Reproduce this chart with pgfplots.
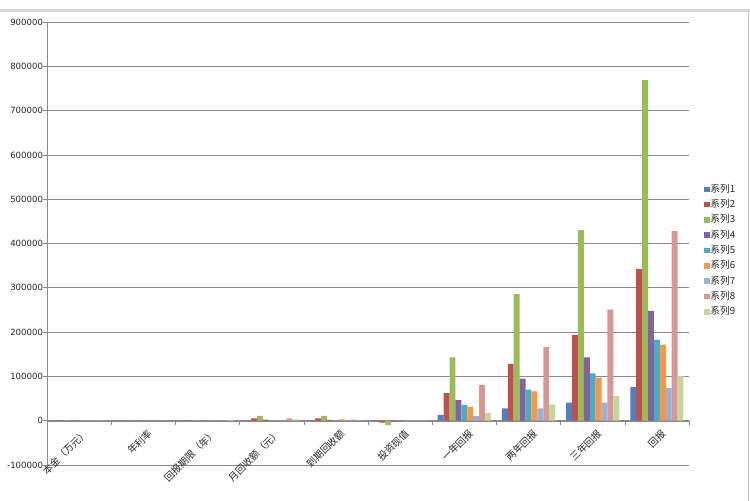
\documentclass[border=0pt]{standalone}
\usepackage{fontspec}
\setmainfont{DejaVu Sans}
\newfontfamily\cjk{Noto Sans CJK SC}
\usepackage{pgfplots}
\usepackage{pgfplotstable}
\pgfplotsset{compat=1.18}
\definecolor{c1}{HTML}{4F81BD}
\definecolor{c2}{HTML}{C0504D}
\definecolor{c3}{HTML}{9BBB59}
\definecolor{c4}{HTML}{8064A2}
\definecolor{c5}{HTML}{4BACC6}
\definecolor{c6}{HTML}{F79646}
\definecolor{c7}{HTML}{95B3D7}
\definecolor{c8}{HTML}{DA9694}
\definecolor{c9}{HTML}{C4D79B}
\definecolor{gridc}{HTML}{8A8A8A}
\pgfplotstableread{
x s1 s2 s3 s4 s5 s6 s7 s8 s9
0 800 900 1000 800 700 700 600 900 600
1 0 0 0 0 0 0 0 0 0
2 600 700 800 600 500 500 400 700 1200
3 1000 5000 11000 2500 800 800 1000 5000 3000
4 1000 5500 11000 2000 1000 3000 1000 2500 1000
5 -1000 -4500 -10000 -2000 -1500 -1500 -500 -1000 -500
6 13000 62000 143000 47000 36000 31000 11000 81000 17000
7 28000 128000 286000 95000 70000 66000 28000 166000 37000
8 41000 194000 430000 143000 107000 97000 41000 251000 56000
9 76000 342000 769000 248000 183000 172000 74000 428000 101000
}\datatable
\begin{document}
\begin{tikzpicture}
\path[use as bounding box] (-47bp,-36bp) rectangle (703bp,465bp);
\fill[black!16] (-47bp,453bp) rectangle (703bp,456bp);
\draw[black!22, line width=0.8bp] (701bp,-36bp) -- (701bp,454bp);
\begin{axis}[
  at={(0,0)}, anchor=south west,
  scale only axis,
  width=642bp, height=443bp,
  ybar=0pt, bar width=0.092,
  xmin=-0.5, xmax=9.5,
  ymin=-100000, ymax=900000,
  scaled y ticks=false,
  ytick={-100000,0,100000,200000,300000,400000,500000,600000,700000,800000,900000},
  yticklabels={-100000,0,100000,200000,300000,400000,500000,600000,700000,800000,900000},
  yticklabel style={font=\fontsize{8.6}{10}\selectfont, xshift=3bp, text=black!85},
  axis x line=middle,
  axis y line=left,
  axis line style={-, color=gridc},
  ymajorgrids,
  grid style={gridc, line width=0.6bp},
  y tick style={gridc, line width=0.6bp},
  tick align=outside,
  major tick length=3.5bp,
  xtick={0,1,2,3,4,5,6,7,8,9},
  x tick style={draw=none},
  xticklabels={本金（万元）,年利率,回报期限（年）,月回收额（元）,到期回收额,投资现值,一年回报,两年回报,三年回报,回报},
  xticklabel style={font=\cjk\fontsize{9.8}{11}\selectfont, rotate=45, anchor=east, yshift=-10bp, xshift=3bp, text=black!85},
  extra x ticks={-0.5,0.5,1.5,2.5,3.5,4.5,5.5,6.5,7.5,8.5,9.5},
  extra x tick labels={},
  extra x tick style={x tick style={gridc, line width=0.6bp, draw=gridc}, major tick length=4bp, tick align=outside},
  legend style={draw=none, fill=none, at={(1,0.484)}, anchor=west, xshift=12bp,
    font=\cjk\fontsize{9.8}{11}\selectfont, row sep=4.3bp,
    nodes={inner sep=0.5bp, text height=8bp, text depth=2bp, text=black!85}},
  legend cell align=left,
  legend image code/.code={\fill[#1] (0bp,-2.8bp) rectangle (5.6bp,2.8bp);},
  every axis plot/.append style={draw=none},
]
\addplot[fill=c1] table[x=x,y=s1]{\datatable};
\addplot[fill=c2] table[x=x,y=s2]{\datatable};
\addplot[fill=c3] table[x=x,y=s3]{\datatable};
\addplot[fill=c4] table[x=x,y=s4]{\datatable};
\addplot[fill=c5] table[x=x,y=s5]{\datatable};
\addplot[fill=c6] table[x=x,y=s6]{\datatable};
\addplot[fill=c7] table[x=x,y=s7]{\datatable};
\addplot[fill=c8] table[x=x,y=s8]{\datatable};
\addplot[fill=c9] table[x=x,y=s9]{\datatable};
\legend{系列1,系列2,系列3,系列4,系列5,系列6,系列7,系列8,系列9}
\end{axis}
\end{tikzpicture}
\end{document}
